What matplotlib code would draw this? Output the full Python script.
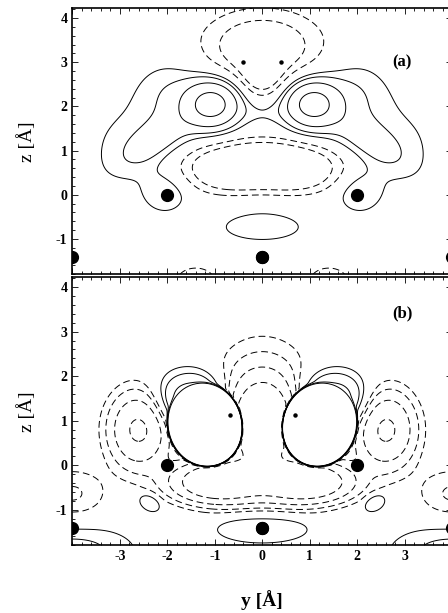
import numpy as np
import matplotlib.pyplot as plt
from matplotlib.ticker import MultipleLocator

plt.rcParams['font.family'] = ['Liberation Serif', 'DejaVu Serif']
plt.rcParams['font.weight'] = 'bold'

# contour levels (solid = positive, dashed = negative)
pos_levels = [1, 2, 4, 8]
neg_levels = [-8, -4, -2, -1]

# panel (a): density terms (left half, mirrored to +y)
a_amp = [10.0, 1.8, 1.9, 1.2, 1.8, 0.9, -3.6, -2.0, -3.5, 1.6, -1.6, 0.8]
a_y = [-1.05, -1.9, -2.2, -2.8, -2.05, 0.0, 0.0, 0.0, 0.0, 0.0, -1.4, 0.0]
a_z = [2.05, 2.3, 1.25, 1.2, 0.05, 1.85, 3.35, 2.6, 0.6, -0.73, -1.95, 0.0]
a_wy = [0.38, 0.55, 0.7, 0.75, 0.35, 0.35, 0.85, 0.35, 1.3, 0.78, 0.4, 0.5]
a_wz = [0.35, 0.55, 0.3, 0.7, 0.35, 0.2, 0.55, 0.3, 0.48, 0.29, 0.3, 0.2]
a_tilt = [0, 0, 36, 20, 0, 0, 0, 0, 0, 0, 0, 0]
a_pow = [1, 1, 1, 1, 1, 1, 1, 1, 2, 1, 1, 1]

# panel (b)
b_amp = [1e5, 7.0, -46.0, -18.0, -9.0, 1.9, 1.95, 2.6, -2.2]
b_y = [-1.2, -1.45, 0.0, -0.9, -2.6, 0.0, -2.37, -4.0, -4.0]
b_z = [0.9, 1.45, 1.0, -0.38, 0.8, -1.43, -0.84, -1.95, -0.65]
b_wy = [0.38, 0.5, 0.25, 0.6, 0.4, 0.8, 0.2, 0.95, 0.5]
b_wz = [0.456, 0.42, 0.35, 0.28, 0.55, 0.27, 0.14, 0.44, 0.4]
b_tilt = [10, 0, 0, 0, 0, 0, -35, 0, 0]
b_pow = [3, 1, 0.5, 1, 1, 2, 2, 1, 1]

# atoms: large (substrate) and small (adsorbate)
big_y = [-4, -2, 0, 2, 4, 0]
big_z = [-1.41, 0, -1.41, 0, -1.41, -1.41]
a_small_y = [-0.4, 0.4]
a_small_z = [3.0, 3.0]
b_small_y = [-0.68, 0.68]
b_small_z = [1.13, 1.13]

yy = np.linspace(-4, 4, 500)
zz = np.linspace(-1.8, 4.22, 400)
Y, Z = np.meshgrid(yy, zz)


def density(amp, y0, z0, wy, wz, tilt, pw):
    F = np.zeros_like(Y)
    for A, yc, zc, sy, sz, t, p in zip(amp, y0, z0, wy, wz, tilt, pw):
        centres = [(yc, t)] if yc == 0 else [(yc, t), (-yc, -t)]
        for c, tt in centres:
            th = np.radians(tt)
            dy = Y - c
            dz = Z - zc
            u = np.cos(th) * dy + np.sin(th) * dz
            v = -np.sin(th) * dy + np.cos(th) * dz
            q = 0.5 * ((u / sy) ** 2 + (v / sz) ** 2)
            F += A * np.exp(-np.minimum(q ** p, 700))
    return F


fa = density(a_amp, a_y, a_z, a_wy, a_wz, a_tilt, a_pow)
fb = density(b_amp, b_y, b_z, b_wy, b_wz, b_tilt, b_pow)

fig = plt.figure(figsize=(4.48, 6.13), dpi=100)
ax_a = fig.add_axes([72.3 / 448, 1 - 274.3 / 613, 380 / 448, 266 / 613])
ax_b = fig.add_axes([72.3 / 448, 1 - 545.3 / 613, 380 / 448, 268 / 613])

for ax, f, sy, sz, tag in [(ax_a, fa, a_small_y, a_small_z, '(a)'),
                           (ax_b, fb, b_small_y, b_small_z, '(b)')]:
    ax.contour(Y, Z, f, levels=pos_levels, colors='black', linewidths=0.7)
    ax.contour(Y, Z, f, levels=neg_levels, colors='black', linewidths=0.7,
               linestyles=[(0, (7, 4))])
    ax.plot(big_y, big_z, 'o', color='black', markersize=8.5)
    ax.plot(sy, sz, 'o', color='black', markersize=2.2)
    ax.set_xlim(-4, 4)
    ax.set_ylim(-1.8, 4.22)
    ax.xaxis.set_major_locator(MultipleLocator(1))
    ax.xaxis.set_minor_locator(MultipleLocator(0.2))
    ax.yaxis.set_major_locator(MultipleLocator(1))
    ax.yaxis.set_minor_locator(MultipleLocator(0.2))
    ax.tick_params(which='both', direction='in', top=True, right=True,
                   labelsize=10, width=0.6)
    ax.tick_params(which='major', length=4)
    ax.tick_params(which='minor', length=2)
    for s in ax.spines.values():
        s.set_linewidth(1.2)
    ax.set_yticks([-1, 0, 1, 2, 3, 4])
    ax.set_yticklabels(['-1', '0', '1', '2', '3', '4'])
    ax.set_ylabel('z [Å]', fontsize=14, labelpad=14)
    ax.text(2.95, 3.0 if tag == '(a)' else 3.42, tag, fontsize=12,
            fontweight='bold', ha='center', va='center')

ax_a.tick_params(labelbottom=False)
ax_b.set_xticks([-3, -2, -1, 0, 1, 2, 3])
ax_b.set_xticklabels(['-3', '-2', '-1', '0', '1', '2', '3'])
fig.text(262 / 448, 1 - 600 / 613, 'y [Å]', fontsize=14, fontweight='bold',
         ha='center', va='center')

fig.savefig('out.png', dpi=100)
